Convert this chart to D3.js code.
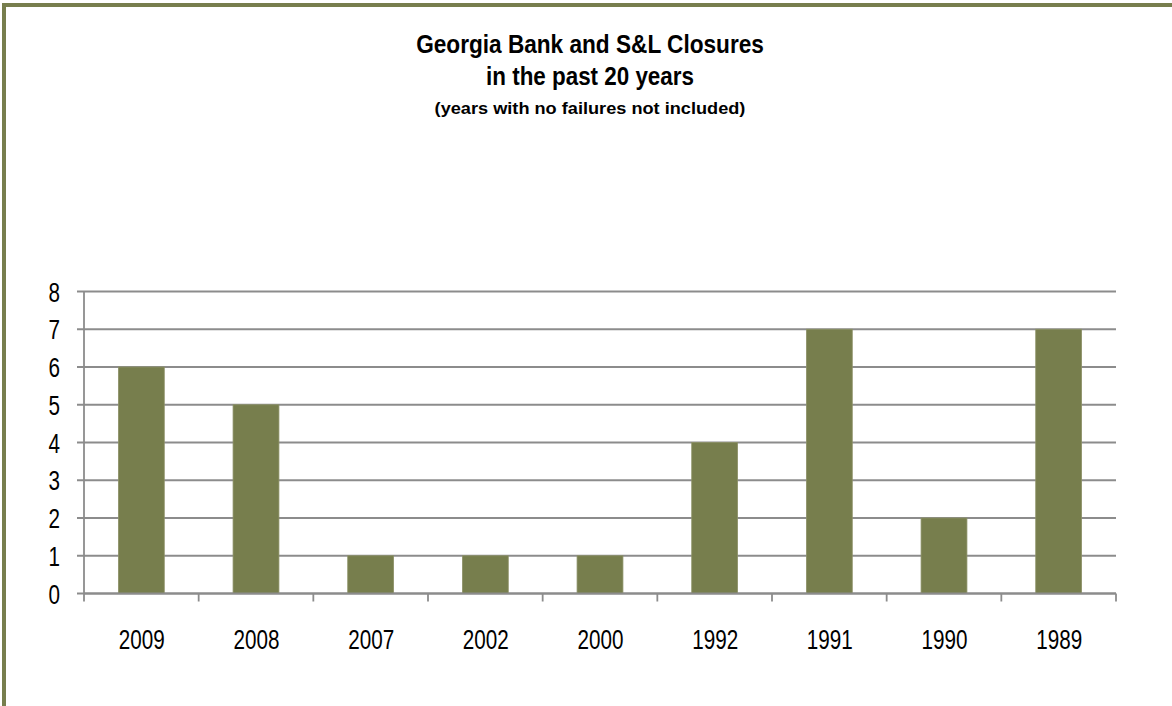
<!DOCTYPE html>
<html><head><meta charset="utf-8">
<script src="https://cdn.jsdelivr.net/npm/d3@7/dist/d3.min.js"></script>
<style>body{margin:0;background:#fff}svg{display:block}</style>
</head><body>
<svg id="c" width="1172" height="706"></svg>
<script>
const categories = ["2009","2008","2007","2002","2000","1992","1991","1990","1989"];
const closures = [6,5,1,1,1,4,7,2,7];
const yTicks = [0,1,2,3,4,5,6,7,8];
const titleLines = ["Georgia Bank and S&L Closures","in the past 20 years","(years with no failures not included)"];

const svg = d3.select("#c");
const font = "'Liberation Sans',Arial,sans-serif";
const olive = "#777e4d";
const grid = "#8c8c8c";

// frame
svg.append("rect").attr("x",4).attr("y",5).attr("width",1180).attr("height",720)
  .attr("fill","#fff").attr("stroke",olive).attr("stroke-width",4);

const pL=84,pR=1116,pT=291.5,pB=593.5;
const x = d3.scaleBand().domain(categories).range([pL,pR]).paddingInner(0.6).paddingOuter(0.3);
const y = d3.scaleLinear().domain([0,8]).range([pB,pT]);

// gridlines
svg.append("g").selectAll("line").data(yTicks).join("line")
  .attr("x1",pL-7).attr("x2",pR).attr("y1",d=>y(d)).attr("y2",d=>y(d))
  .attr("stroke",grid).attr("stroke-width",1.8);

// bars
svg.append("g").selectAll("rect").data(categories).join("rect")
  .attr("x",d=>x(d)).attr("width",x.bandwidth())
  .attr("y",(d,i)=>y(closures[i])).attr("height",(d,i)=>y(0)-y(closures[i]))
  .attr("fill",olive).attr("stroke","#8d9268").attr("stroke-width",0.8);

// y axis line
svg.append("line").attr("x1",pL).attr("x2",pL).attr("y1",pT).attr("y2",pB)
  .attr("stroke",grid).attr("stroke-width",1.8);

// narrow-text helper
const numSize = 27;
function narrowText(g, tx, ty, str, size, weight, anchor, sx){
  return g.append("text").attr("transform",`translate(${tx},${ty}) scale(${sx},1)`)
    .attr("text-anchor",anchor).attr("font-family",font).attr("font-size",size)
    .attr("font-weight",weight).attr("fill","#000").text(str);
}
// measure digit scale
const probe = svg.append("text").attr("font-family",font).attr("font-size",numSize).text("2009");
const numScale = 46/probe.node().getComputedTextLength();
probe.remove();

// y labels
const yl = svg.append("g");
yTicks.forEach(v=>{
  narrowText(yl, 60, y(v)+10, d3.format("d")(v), numSize, "normal", "end", numScale);
});

// x axis
const step = (pR-pL)/categories.length;
const xa = svg.append("g").attr("transform",`translate(0,${pB})`);
xa.append("line").attr("x1",pL).attr("x2",pR).attr("stroke",grid).attr("stroke-width",1.8);
xa.selectAll("line.t").data(d3.range(categories.length+1)).join("line").attr("class","t")
  .attr("x1",i=>pL+i*step).attr("x2",i=>pL+i*step).attr("y1",0).attr("y2",8)
  .attr("stroke",grid).attr("stroke-width",1.8);
categories.forEach(c=>{
  narrowText(xa, x(c)+x.bandwidth()/2+0.5, 55, c, numSize, "normal", "middle", numScale);
});

// title
const tsz=[25,25,16], ty=[53,84.5,114], tw=[348,208,311];
const tg = svg.append("g");
titleLines.forEach((t,i)=>{
  const p = tg.append("text").attr("font-family",font).attr("font-weight","bold").attr("font-size",tsz[i]).text(t);
  const s = tw[i]/p.node().getComputedTextLength();
  p.remove();
  narrowText(tg, 590, ty[i], t, tsz[i], "bold", "middle", s);
});
</script>
</body></html>
